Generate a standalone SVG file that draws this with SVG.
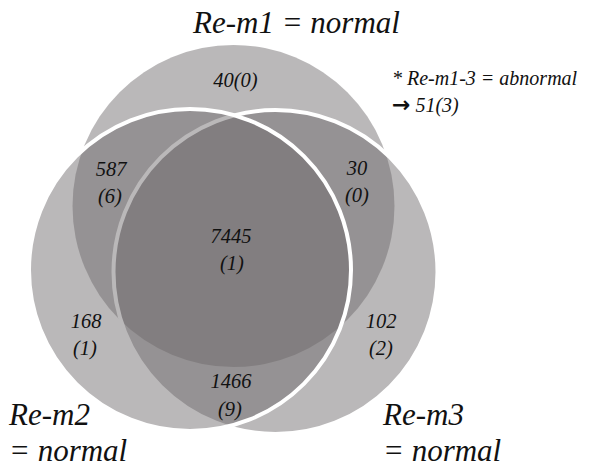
<svg xmlns="http://www.w3.org/2000/svg" width="590" height="467" viewBox="0 0 590 467">
<style>
.set{fill:#6c686a;fill-opacity:0.47}
.edge{stroke:#ffffff;stroke-width:4}
text{font-family:'Liberation Serif','Times New Roman',serif;font-style:italic;fill:#111111}
.big{font-size:31px}
.num{font-size:20.5px;text-anchor:middle}
.note{font-size:20px}
.arr{font-family:'DejaVu Sans',sans-serif;font-style:normal;font-weight:bold;font-size:22px}
</style>
<rect width="590" height="467" fill="#ffffff"/>
<g id="set-re-m1">
<circle class="set" cx="233.5" cy="206" r="161"/>
<text class="big" x="193" y="33">Re-m1 = normal</text>
</g>
<g id="set-re-m3">
<circle class="set edge" cx="275.5" cy="272" r="162"/>
<text class="big" x="383" y="425">Re-m3</text>
<text class="big" x="383" y="461">= normal</text>
</g>
<g id="set-re-m2">
<circle class="set edge" cx="190" cy="270" r="161"/>
<text class="big" x="9" y="425">Re-m2</text>
<text class="big" x="9" y="461">= normal</text>
</g>
<g id="region-counts">
<text class="num" x="235.5" y="87">40(0)</text>
<text class="num" x="111" y="176">587</text>
<text class="num" x="110" y="203">(6)</text>
<text class="num" x="357" y="175">30</text>
<text class="num" x="357" y="202">(0)</text>
<text class="num" x="231" y="243">7445</text>
<text class="num" x="232" y="270">(1)</text>
<text class="num" x="86" y="328">168</text>
<text class="num" x="85" y="355">(1)</text>
<text class="num" x="381" y="328">102</text>
<text class="num" x="381" y="355">(2)</text>
<text class="num" x="231" y="388">1466</text>
<text class="num" x="230" y="416">(9)</text>
</g>
<g id="annotation">
<text class="note" x="392" y="85">* Re-m1-3 = abnormal</text>
<text class="note" x="392" y="112"><tspan class="arr">→</tspan> 51(3)</text>
</g>
</svg>
